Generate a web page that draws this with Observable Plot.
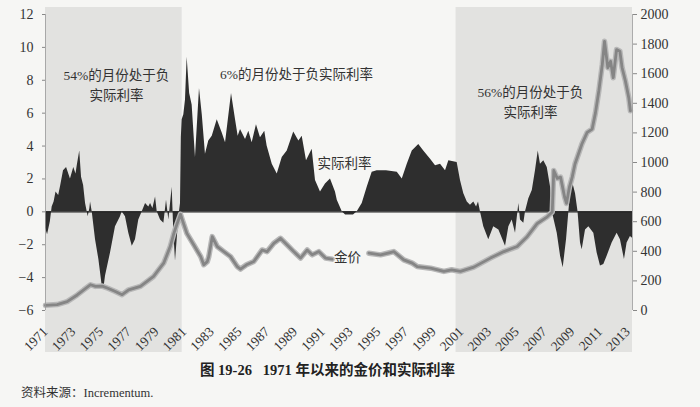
<!DOCTYPE html>
<html><head><meta charset="utf-8">
<script src="https://cdn.jsdelivr.net/npm/d3@7"></script>
<script src="https://cdn.jsdelivr.net/npm/@observablehq/plot@0.6"></script>
<style>
body{margin:0;background:#f6f6f4;width:700px;height:407px;overflow:hidden;font-family:"Liberation Serif","Noto Sans CJK SC",serif;}
#chart{position:absolute;left:0;top:0}
#chart svg text{font-family:"Liberation Serif","Noto Sans CJK SC",serif !important;}
#title{position:absolute;left:200px;top:358px;font-size:14.5px;font-weight:bold;color:#222;white-space:pre}
#src{position:absolute;left:21px;top:382px;font-size:12.5px;color:#333}
</style></head><body>
<div id="chart"></div>
<div id="title">图 19-26   1971 年以来的金价和实际利率</div>
<div id="src">资料来源：Incrementum.</div>
<script>
// Real interest rate (%), left axis
const rateYear = [1971.00,1971.15,1971.35,1971.48,1971.62,1971.76,1971.95,1972.10,1972.30,1972.52,1972.80,1973.04,1973.20,1973.29,1973.47,1973.60,1973.75,1973.89,1974.08,1974.20,1974.25,1974.37,1974.61,1974.85,1975.09,1975.21,1975.33,1975.69,1976.05,1976.41,1976.53,1976.77,1977.01,1977.26,1977.49,1977.73,1977.98,1978.22,1978.45,1978.58,1978.75,1978.94,1979.06,1979.30,1979.54,1979.73,1979.90,1980.14,1980.26,1980.38,1980.50,1980.62,1980.74,1980.80,1980.86,1980.98,1981.10,1981.22,1981.40,1981.58,1981.82,1982.11,1982.31,1982.54,1982.78,1983.03,1983.39,1983.75,1983.99,1984.42,1984.71,1984.90,1985.07,1985.43,1985.67,1985.91,1986.22,1986.51,1986.82,1986.99,1987.36,1987.72,1988.08,1988.44,1988.91,1989.28,1989.52,1989.83,1990.24,1990.48,1990.84,1991.20,1991.56,1991.92,1992.05,1992.41,1992.65,1993.22,1993.49,1993.85,1994.21,1994.57,1994.93,1995.60,1996.38,1996.74,1997.10,1997.46,1997.93,1998.29,1998.78,1999.14,1999.50,1999.86,2000.10,2000.70,2000.94,2001.18,2001.43,2001.66,2001.90,2002.10,2002.24,2002.38,2002.62,2002.98,2003.34,2003.71,2004.19,2004.43,2004.67,2004.91,2005.15,2005.27,2005.51,2005.63,2005.87,2006.12,2006.35,2006.55,2006.71,2006.95,2007.20,2007.44,2007.56,2007.92,2008.16,2008.35,2008.59,2008.76,2008.85,2009.00,2009.24,2009.42,2009.60,2009.72,2009.96,2010.20,2010.56,2010.80,2011.04,2011.28,2011.52,2011.88,2012.24,2012.48,2012.77,2012.96,2013.20,2013.35];
const rateValue = [-1.0,-1.4,-0.6,0.3,0.6,1.2,1.0,1.6,2.5,2.7,2.0,2.7,2.3,2.8,3.7,2.1,1.6,0.5,-0.3,0.2,0.6,0.0,-1.7,-2.9,-4.5,-4.7,-3.9,-2.5,-0.9,-0.3,0.0,-0.3,-1.3,-2.1,-1.7,-0.5,0.0,0.5,0.3,0.5,0.2,0.9,0.0,-0.5,-0.7,0.7,-0.5,1.5,-1.3,-3.0,-1.7,-0.3,0.5,4.5,5.6,5.9,6.8,9.4,7.2,6.5,3.3,7.5,5.9,3.5,4.3,4.6,5.6,4.8,4.2,7.2,5.6,4.6,5.0,4.4,4.9,4.2,5.3,4.5,4.9,4.0,2.9,2.3,3.3,3.7,4.85,4.3,4.6,3.1,3.8,1.9,1.2,1.7,2.0,1.2,0.7,0.0,-0.2,-0.2,0.0,0.5,1.5,2.4,2.5,2.5,2.4,2.0,2.9,3.7,4.1,3.7,3.2,2.8,2.9,2.5,3.1,3.0,1.9,1.1,0.6,0.4,0.6,0.3,0.6,0.0,-0.9,-1.7,-0.9,-1.1,-2.1,-0.9,-0.5,-1.3,0.5,-0.5,-0.7,0.0,0.8,1.3,2.5,3.7,2.9,3.1,2.7,1.5,0.0,-1.3,-2.7,-3.4,-1.7,0.0,0.9,1.9,1.1,0.0,-1.9,-2.3,-1.1,-0.9,-1.3,-2.5,-3.3,-3.2,-2.7,-1.9,-1.3,-1.7,-2.9,-1.9,-1.5,-1.6];
// Gold price (USD/oz), right axis; null = break for label
const goldYear = [1971.00,1971.84,1972.56,1973.29,1973.76,1974.25,1974.61,1975.09,1975.50,1976.00,1976.53,1977.00,1977.85,1978.80,1979.54,1980.00,1980.26,1980.50,1980.74,1980.90,1981.20,1981.70,1982.20,1982.42,1982.67,1982.78,1983.03,1983.39,1983.87,1984.35,1984.83,1985.07,1985.50,1986.03,1986.63,1986.99,1987.47,1987.95,1988.44,1988.91,1989.40,1989.88,1990.24,1990.72,1991.20,1991.68,1993.00,1994.33,1995.17,1995.80,1996.13,1996.85,1997.46,1997.82,1998.78,1999.74,2000.30,2000.94,2001.90,2003.10,2004.07,2005.03,2005.75,2006.48,2007.20,2007.56,2007.67,2007.92,2008.16,2008.45,2008.59,2008.80,2009.00,2009.20,2009.70,2010.08,2010.44,2010.68,2010.92,2011.17,2011.33,2011.57,2011.77,2011.96,2012.20,2012.44,2012.60,2012.84,2013.08,2013.20];
const goldValue = [35,40,60,105,140,174,163,165,150,130,107,140,163,230,322,432,521,588,650,604,521,443,364,309,330,364,499,432,398,364,297,280,309,331,409,398,454,488,443,398,354,409,376,398,354,347,null,387,376,390,398,342,320,297,286,264,275,264,293,354,398,432,499,588,633,666,946,893,901,767,724,834,901,990,1125,1203,1226,1337,1483,1662,1819,1640,1684,1573,1763,1752,1640,1550,1438,1349];

const xDomain = [1971, 2013.35];
const xTicks = [1971,1973,1975,1977,1979,1981,1983,1985,1987,1989,1991,1993,1995,1997,1999,2001,2003,2005,2007,2009,2011,2013];
const rateTicks = [-6,-4,-2,0,2,4,6,8,10,12];
const goldTicks = [0,200,400,600,800,1000,1200,1400,1600,1800,2000];
const shadeStart = [1971, 2000.62];
const shadeEnd = [1980.86, 2013.35];
const annoText = ["54%的月份处于负\n实际利率","6%的月份处于负实际利率","实际利率","金价","56%的月份处于负\n实际利率"];
const annoYear = [1976.12,1989.11,1992.57,1992.79,2005.99];
const annoRate = [7.8,8.47,3.06,-2.66,6.74];

const rate = rateYear.map((y,i)=>({year:y, value:rateValue[i]}));
const gold = goldYear.map((y,i)=>({year:y, gold:goldValue[i]}));
const shades = shadeStart.map((s,i)=>({x1:s, x2:shadeEnd[i]}));
const annos = annoText.map((t,i)=>({text:t, year:annoYear[i], rate:annoRate[i]}));
const rMin = rateTicks[0], rMax = rateTicks[rateTicks.length-1], gMax = goldTicks[goldTicks.length-1];
const goldToY = g => (g == null ? NaN : rMin + g*(rMax-rMin)/gMax);
const yToGold = v => String(Math.round((v-rMin)*gMax/(rMax-rMin)));
const SERIF = "Liberation Serif, serif";

const chart = Plot.plot({
  width: 700, height: 355,
  marginLeft: 45, marginRight: 68, marginTop: 14, marginBottom: 45,
  style: {background: "transparent", fontFamily: SERIF, fontSize: "14px", color: "#333"},
  x: {domain: xDomain},
  y: {domain: [rMin, rMax]},
  marks: [
    Plot.rect(shades, {x1: "x1", x2: "x2", fill: "#e2e2e0", insetTop: -7, insetBottom: -42}),
    Plot.areaY(rate, {x: "year", y: "value", fill: "#2e2e2e"}),
    Plot.ruleY([0], {stroke: "#222", strokeWidth: 1.2}),
    Plot.line(gold, {x: "year", y: d => goldToY(d.gold), stroke: "#b8b8b8", strokeWidth: 5.5, strokeLinejoin: "round"}),
    Plot.line(gold, {x: "year", y: d => goldToY(d.gold), stroke: "#858585", strokeWidth: 2.8, strokeLinejoin: "round"}),
    Plot.ruleX([xDomain[0]], {stroke: "#999", strokeWidth: 0.8}),
    Plot.ruleX([xDomain[1]], {stroke: "#999", strokeWidth: 0.8}),
    Plot.axisY({anchor: "left", ticks: rateTicks, tickSize: 3, tickPadding: 9, label: null, stroke: "#888", fill: "#333", fontSize: 14}),
    Plot.axisY({anchor: "right", ticks: goldTicks.map(goldToY), tickFormat: yToGold, tickSize: 4, tickPadding: 4, label: null, stroke: "#888", fill: "#333", fontSize: 14}),
    Plot.axisX({ticks: xTicks, tickFormat: "d", tickRotate: -45, tickSize: 0, tickPadding: 19, label: null, fill: "#333", fontSize: 13.5}),
    Plot.text(annos, {x: "year", y: "rate", text: "text", fontSize: 13.5, lineHeight: 1.45, fill: "#333"})
  ]
});
document.getElementById("chart").appendChild(chart);
</script>
</body></html>
